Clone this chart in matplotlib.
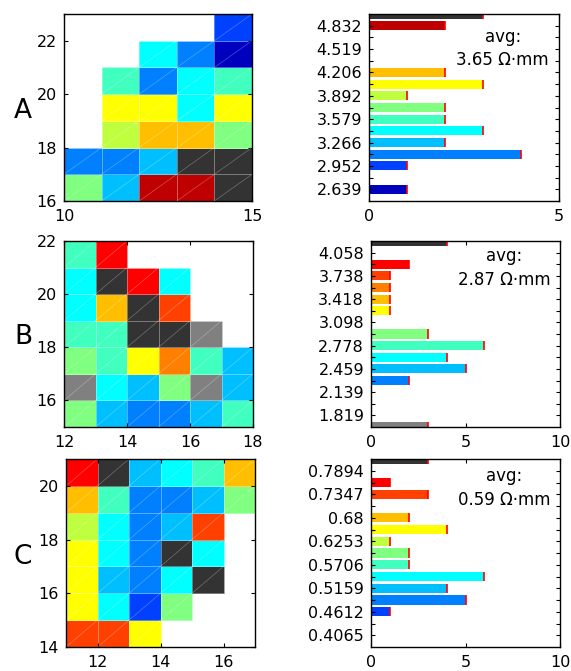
import numpy as np
import matplotlib
matplotlib.use('Agg')
import matplotlib.pyplot as plt
from matplotlib.colors import ListedColormap
from matplotlib.collections import LineCollection

plt.rcParams['font.family'] = ['DejaVu Sans']

# bin colours: 0 = below range (gray), 1..15 = jet levels, 16 = above range (dark gray)
binColors = [(0.5, 0.5, 0.5),
             (0, 0, 0.75), (0, 0, 1), (0, 0.25, 1), (0, 0.5, 1), (0, 0.75, 1),
             (0, 1, 1), (0.25, 1, 0.75), (0.5, 1, 0.5), (0.75, 1, 0.25), (1, 1, 0),
             (1, 0.75, 0), (1, 0.5, 0), (1, 0.25, 0), (1, 0, 0), (0.75, 0, 0),
             (0.2, 0.2, 0.2)]

# map grids, rows listed top to bottom, -1 = no data
gridA = [[-1, -1, -1, -1, 3],
         [-1, -1, 6, 4, 1],
         [-1, 7, 4, 6, 7],
         [-1, 10, 10, 6, 10],
         [-1, 9, 11, 11, 8],
         [4, 4, 5, 16, 16],
         [8, 5, 15, 15, 16]]
gridB = [[7, 14, -1, -1, -1, -1],
         [6, 16, 14, 6, -1, -1],
         [6, 11, 16, 13, -1, -1],
         [7, 7, 16, 16, 0, -1],
         [8, 7, 10, 12, 7, 5],
         [0, 6, 5, 8, 0, 5],
         [8, 5, 4, 4, 5, 7]]
gridC = [[14, 16, 5, 6, 7, 11],
         [11, 7, 4, 4, 5, 8],
         [9, 6, 4, 5, 13, -1],
         [10, 6, 4, 16, 6, -1],
         [10, 5, 4, 6, 16, -1],
         [10, 6, 3, 8, -1, -1],
         [13, 13, 10, -1, -1, -1]]

# lower-left corner of each map (x, y)
originA = (10, 16)
originB = (12, 15)
originC = (11, 14)

# histogram counts per bin (index 0..16)
countsA = [0, 1, 0, 1, 4, 2, 3, 2, 2, 1, 3, 2, 0, 0, 0, 2, 3]
countsB = [3, 0, 0, 0, 2, 5, 4, 6, 3, 0, 1, 1, 1, 1, 2, 0, 4]
countsC = [0, 0, 0, 1, 5, 4, 6, 2, 2, 1, 4, 2, 0, 3, 1, 0, 3]

labelsA = ['2.639', '2.952', '3.266', '3.579', '3.892', '4.206', '4.519', '4.832']
labelsB = ['1.819', '2.139', '2.459', '2.778', '3.098', '3.418', '3.738', '4.058']
labelsC = ['0.4065', '0.4612', '0.5159', '0.5706', '0.6253', '0.68', '0.7347', '0.7894']

avgA, avgB, avgC = 3.65, 2.87, 0.59

W, H = 571, 671


def pixAxes(fig, left, top, right, bottom):
    return fig.add_axes([left / W, 1 - bottom / H, (right - left) / W, (bottom - top) / H])


def styleAxes(ax):
    for s in ax.spines.values():
        s.set_linewidth(1.0)
    ax.tick_params(direction='in', length=3, width=0.8, top=True, right=True,
                   labelsize=11.5, pad=5)


def plotMap(ax, grid, origin, xticks, yticks):
    g = np.array(grid, dtype=float)[::-1]
    data = np.ma.masked_less(g, 0)
    ny, nx = g.shape
    x = origin[0] + np.arange(nx + 1)
    y = origin[1] + np.arange(ny + 1)
    cmap = ListedColormap(binColors)
    ax.pcolormesh(x, y, data, cmap=cmap, vmin=-0.5, vmax=16.5,
                  edgecolors=(1, 1, 1, 0.35), linewidth=0.6)
    segs = []
    for j in range(ny):
        for i in range(nx):
            if g[j, i] >= 0:
                segs.append([(x[i], y[j]), (x[i + 1], y[j + 1])])
    ax.add_collection(LineCollection(segs, colors=[(1, 1, 1, 0.3)], linewidths=0.5))
    ax.set_xlim(x[0], x[-1])
    ax.set_ylim(y[0], y[-1])
    ax.set_xticks(xticks)
    ax.set_yticks(yticks)
    styleAxes(ax)
    ax.tick_params(axis='x', pad=6)


def plotHist(ax, counts, labels, xmax, xticks, avg, txtY):
    pos = np.arange(len(counts))
    h = 0.78
    ax.barh(pos, counts, height=h, color=binColors, edgecolor='none')
    ax.vlines(counts, pos - h / 2, pos + h / 2, color='red', linewidth=1.2)
    ax.set_ylim(0, 16)
    ax.set_xlim(0, xmax)
    ax.set_yticks(range(1, 16))
    ax.set_yticklabels([labels[(k - 1) // 2] if k % 2 == 1 else '' for k in range(1, 16)])
    ax.set_xticks(xticks)
    styleAxes(ax)
    ax.tick_params(axis='x', pad=6)
    ax.text(0.704, txtY[0], 'avg:', transform=ax.transAxes, ha='center',
            va='baseline', fontsize=12)
    ax.text(0.704, txtY[1], '%.2f Ω·mm' % avg, transform=ax.transAxes, ha='center',
            va='baseline', fontsize=12)


fig = plt.figure(figsize=(W / 100, H / 100), dpi=100)

axA = pixAxes(fig, 64, 14, 252, 201)
plotMap(axA, gridA, originA, [10, 15], [16, 18, 20, 22])
axB = pixAxes(fig, 64, 241, 253, 427)
plotMap(axB, gridB, originB, [12, 14, 16, 18], [16, 18, 20, 22])
axC = pixAxes(fig, 66, 459, 255, 647)
plotMap(axC, gridC, originC, [12, 14, 16], [14, 16, 18, 20])

hA = pixAxes(fig, 369, 14, 559, 201)
plotHist(hA, countsA, labelsA, 5, [0, 5], avgA, (0.85, 0.727))
hB = pixAxes(fig, 371, 241, 560, 427)
plotHist(hB, countsB, labelsB, 10, [0, 5, 10], avgB, (0.893, 0.765))
hC = pixAxes(fig, 371, 459, 560, 647)
plotHist(hC, countsC, labelsC, 10, [0, 5, 10], avgC, (0.882, 0.754))

for letter, yc in [('A', 111), ('B', 337), ('C', 557)]:
    fig.text(23 / W, 1 - yc / H, letter, ha='center', va='center', fontsize=19)

plt.savefig('out.png', dpi=100)
